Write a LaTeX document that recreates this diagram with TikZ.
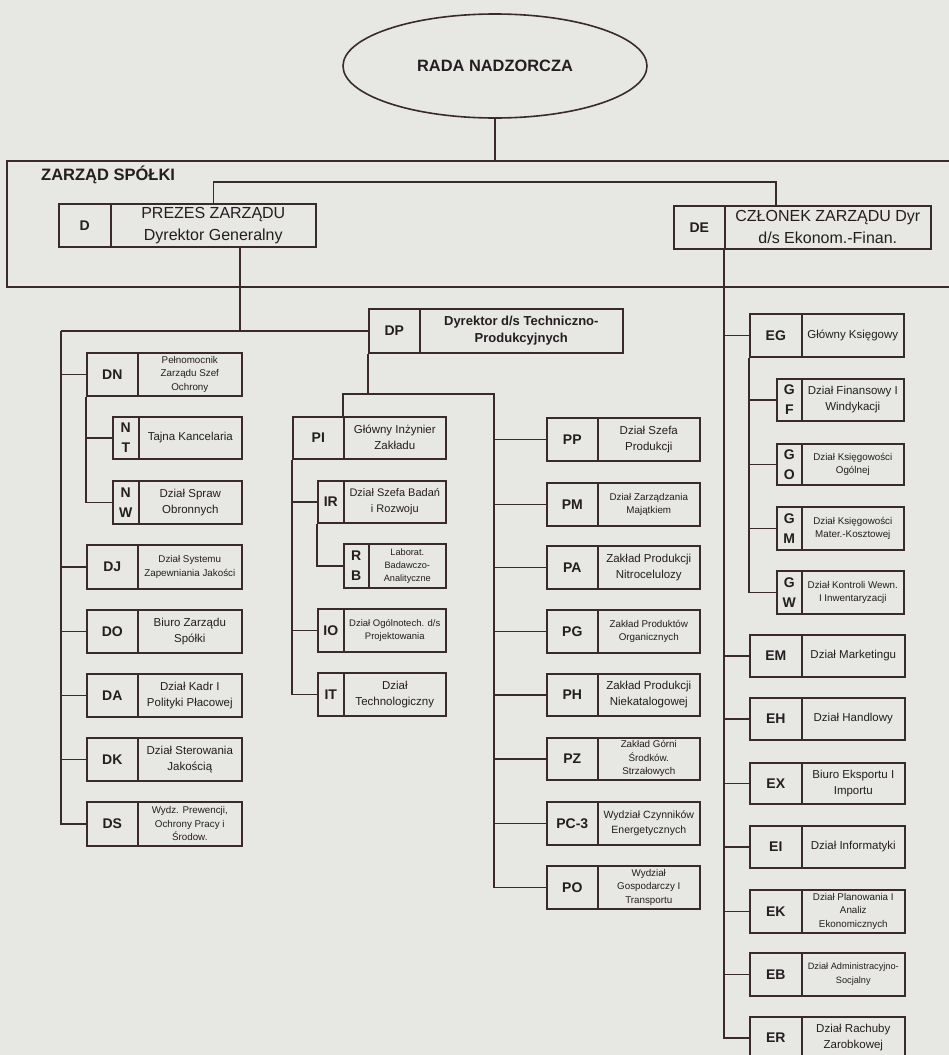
\documentclass[tikz,border=0pt]{standalone}
\usepackage{fontspec}
\setmainfont{Liberation Sans}
\usetikzlibrary{shapes.geometric}
\definecolor{paper}{RGB}{231,231,228}
\definecolor{ink}{RGB}{58,42,46}
\definecolor{txt}{RGB}{36,30,32}
\tikzset{
  cell/.style={draw=ink, line width=1.6pt, inner sep=1pt, align=center, text=txt},
  codecell/.style={cell, font=\bfseries\fontsize{14}{20}\selectfont},
  nrm/.style={font=\fontsize{11.5}{16}\selectfont},
  sml/.style={font=\fontsize{9.8}{13.5}\selectfont},
  link/.style={draw=ink, line width=1.6pt},
}
% one unit: code cell + description cell
% #1 name, #2 left x, #3 divider x, #4 right x, #5 top y, #6 bottom y, #7 code, #8 text, #9 text style
\newcommand\orgunit[9]{%
  \pgfmathsetmacro\cellw{#3-#2}%
  \pgfmathsetmacro\textw{#4-#3}%
  \pgfmathsetmacro\cellh{#6-#5}%
  \node[codecell, anchor=north west, minimum width=\cellw pt, minimum height=\cellh pt] (#1-c) at (#2,#5) {#7};
  \node[cell, anchor=north west, minimum width=\textw pt, minimum height=\cellh pt, #9] (#1) at (#3,#5) {#8};
}
\begin{document}
\begin{tikzpicture}[x=1pt,y=-1pt]
\useasboundingbox[fill=paper] (0,0) rectangle (949,1055);

% supervisory board
\node[ellipse, draw=ink, line width=1.6pt, minimum width=304pt, minimum height=104pt, inner sep=0,
      font=\bfseries\fontsize{16.4}{20}\selectfont, text=txt] (rada) at (495,66) {RADA NADZORCZA};

% management board frame, open at the right
\draw[link] (960,161) -- (7,161) -- (7,287) -- (960,287);
\node[anchor=base west, inner sep=0, font=\bfseries\fontsize{16.5}{20}\selectfont, text=txt]
  (board) at (41,180) {ZARZĄD SPÓŁKI};
\coordinate (frametop) at (495,161);

\orgunit{d}{58}{110}{315}{203}{246}{D}{PREZES ZARZĄDU\\Dyrektor Generalny}{font=\fontsize{16}{22}\selectfont}
\orgunit{de}{673}{724}{930}{205}{248}{DE}{CZŁONEK ZARZĄDU Dyr\\d/s Ekonom.-Finan.}{font=\fontsize{16}{22}\selectfont}

% left column
\orgunit{dn}{86}{137}{241}{352}{395}{DN}{Pełnomocnik\\Zarządu Szef\\Ochrony}{sml}
\orgunit{nt}{112}{138}{241}{416}{458}{N\\T}{Tajna Kancelaria}{nrm}
\orgunit{nw}{112}{138}{241}{480}{523}{N\\W}{Dział Spraw\\Obronnych}{nrm}
\orgunit{dj}{86}{137}{241}{544}{588}{DJ}{Dział Systemu\\Zapewniania Jakości}{sml}
\orgunit{do}{86}{137}{241}{609}{652}{DO}{Biuro Zarządu\\Spółki}{nrm}
\orgunit{da}{86}{137}{241}{673}{716}{DA}{Dział Kadr I\\Polityki Płacowej}{nrm}
\orgunit{dk}{86}{137}{241}{737}{780}{DK}{Dział Sterowania\\Jakością}{nrm}
\orgunit{ds}{86}{137}{241}{801}{845}{DS}{Wydz. Prewencji,\\Ochrony Pracy i\\Środow.}{sml}

% technical director
\orgunit{dp}{368}{419}{622}{308}{352}{DP}{Dyrektor d/s Techniczno-\\Produkcyjnych}{font=\bfseries\fontsize{13}{17}\selectfont}
\orgunit{pi}{292}{343}{445}{416}{458}{PI}{Główny Inżynier\\Zakładu}{nrm}
\orgunit{ir}{317}{343}{445}{480}{522}{IR}{Dział Szefa Badań\\i Rozwoju}{font=\fontsize{11}{16}\selectfont}
\orgunit{rb}{343}{368}{445}{543}{587}{R\\B}{Laborat.\\Badawczo-\\Analityczne}{font=\fontsize{9.2}{13}\selectfont}
\orgunit{io}{317}{343}{445}{608}{651}{IO}{Dział Ogólnotech. d/s\\Projektowania}{font=\fontsize{9.5}{13.5}\selectfont}
\orgunit{it}{317}{343}{445}{672}{715}{IT}{Dział\\Technologiczny}{nrm}

\orgunit{pp}{546}{597}{699}{417}{460}{PP}{Dział Szefa\\Produkcji}{nrm}
\orgunit{pm}{546}{597}{699}{482}{525}{PM}{Dział Zarządzania\\Majątkiem}{sml}
\orgunit{pa}{546}{597}{699}{545}{588}{PA}{Zakład Produkcji\\Nitrocelulozy}{nrm}
\orgunit{pg}{546}{597}{699}{609}{652}{PG}{Zakład Produktów\\Organicznych}{sml}
\orgunit{ph}{546}{597}{699}{673}{715}{PH}{Zakład Produkcji\\Niekatalogowej}{nrm}
\orgunit{pz}{546}{597}{699}{737}{779}{PZ}{Zakład Górni\\Środków.\\Strzałowych}{sml}
\orgunit{pc}{546}{597}{699}{801}{844}{PC-3}{Wydział Czynników\\Energetycznych}{font=\fontsize{10.5}{15}\selectfont}
\orgunit{po}{546}{597}{699}{865}{908}{PO}{Wydział\\Gospodarczy I\\Transportu}{sml}

% economic director
\orgunit{eg}{749}{801}{903}{313}{356}{EG}{Główny Księgowy}{nrm}
\orgunit{gf}{776}{801}{903}{378}{420}{G\\F}{Dział Finansowy I\\Windykacji}{nrm}
\orgunit{go}{776}{801}{903}{443}{484}{G\\O}{Dział Księgowości\\Ogólnej}{sml}
\orgunit{gm}{776}{801}{903}{506}{549}{G\\M}{Dział Księgowości\\Mater.-Kosztowej}{sml}
\orgunit{gw}{776}{801}{903}{570}{613}{G\\W}{Dział Kontroli Wewn.\\I Inwentaryzacji}{sml}
\orgunit{em}{749}{801}{904}{634}{676}{EM}{Dział Marketingu}{nrm}
\orgunit{eh}{749}{801}{904}{697}{739}{EH}{Dział Handlowy}{nrm}
\orgunit{ex}{749}{801}{904}{762}{803}{EX}{Biuro Eksportu I\\Importu}{nrm}
\orgunit{ei}{749}{801}{904}{825}{867}{EI}{Dział Informatyki}{nrm}
\orgunit{ek}{749}{801}{904}{889}{932}{EK}{Dział Planowania I\\Analiz\\Ekonomicznych}{sml}
\orgunit{eb}{749}{801}{904}{952}{995}{EB}{Dział Administracyjno-\\Socjalny}{font=\fontsize{9.2}{13.5}\selectfont}
\orgunit{er}{749}{801}{904}{1016}{1058}{ER}{Dział Rachuby\\Zarobkowej}{nrm}

% connectors: top level
\draw[link] (rada.south) -- (frametop);
\coordinate (bR) at (776,182);
\draw[link] (d.north) |- (bR) -- (bR |- de.north);

% president's line
\coordinate (dv) at (240,0);
\coordinate (lt) at (61,0);
\draw[link] (dv |- d.south) -- (dv |- dp-c.west);
\draw[link] (lt |- dp-c.west) -- (dp-c.west);
\draw[link] (lt |- dp-c.west) |- (ds-c.west);
\foreach \n in {dn,dj,do,da,dk} \draw[link] (lt |- \n-c.west) -- (\n-c.west);
\draw[link] (dn-c.south west) |- (nw-c.west);
\draw[link] (dn-c.south west |- nt-c.west) -- (nt-c.west);

% technical director's line
\coordinate (pr) at (494,394);
\draw[link] (dp-c.south west) -- (dp-c.south west |- pr);
\draw[link] (pi.north west) |- (pr) |- (po-c.west);
\foreach \n in {pp,pm,pa,pg,ph,pz,pc} \draw[link] (pr |- \n-c.west) -- (\n-c.west);
\draw[link] (pi-c.south west) |- (it-c.west);
\foreach \n in {ir,io} \draw[link] (pi-c.south west |- \n-c.west) -- (\n-c.west);
\draw[link] (ir-c.south west) |- (rb-c.west);

% economic director's line
\draw[link] (de.south west) |- (er-c.west);
\foreach \n in {eg,em,eh,ex,ei,ek,eb} \draw[link] (de.south west |- \n-c.west) -- (\n-c.west);
\draw[link] (eg-c.south west) |- (gw-c.west);
\foreach \n in {gf,go,gm} \draw[link] (eg-c.south west |- \n-c.west) -- (\n-c.west);
\end{tikzpicture}
\end{document}
